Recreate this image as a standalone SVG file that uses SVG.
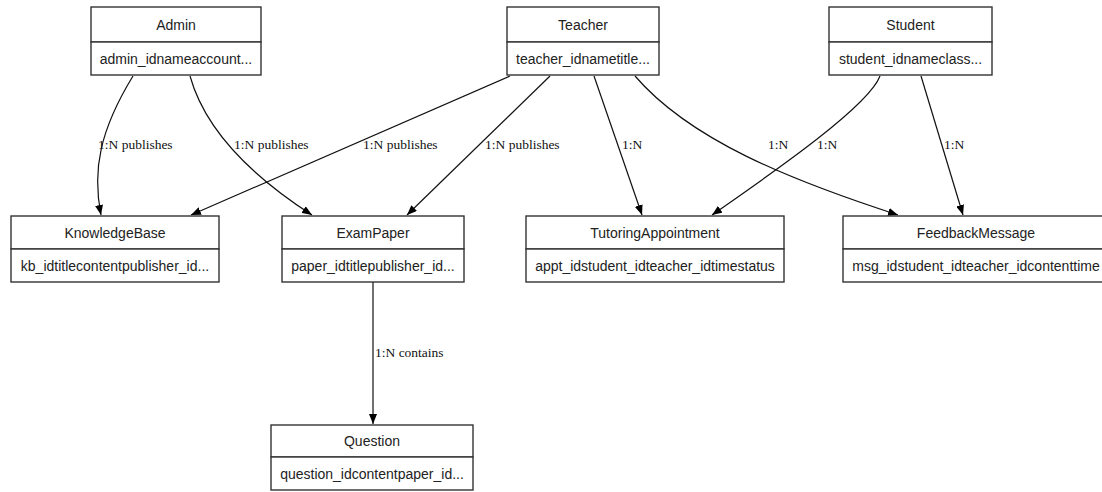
<svg xmlns="http://www.w3.org/2000/svg" width="1102" height="492" viewBox="0 0 1102 492">
<style>
.box{fill:#fff;stroke:#333;stroke-width:1.4}
.t{font-family:"Liberation Sans",Arial,sans-serif;font-size:14px;fill:#222;text-anchor:middle}
.e{fill:none;stroke:#111;stroke-width:1.2;marker-end:url(#ah)}
.l{font-family:"Liberation Serif","Times New Roman",serif;font-size:13.5px;fill:#111}
</style>
<defs>
<marker id="ah" viewBox="0 0 10 8" refX="10" refY="4" markerWidth="10" markerHeight="8" markerUnits="userSpaceOnUse" orient="auto">
<path d="M0,0 L10,4 L0,8 z" fill="#000"/>
</marker>
</defs>
<rect width="1102" height="492" fill="#fff"/>
<g id="connectors">
<path class="e" d="M133,76 C100,130 92,170 101,215"/>
<path class="e" d="M190,76 C205,130 250,175 312,215"/>
<path class="e" d="M510,76 L191,215"/>
<path class="e" d="M550,76 L407,215"/>
<path class="e" d="M594,76 L642,215"/>
<path class="e" d="M635,76 C690,140 790,180 898,215"/>
<path class="e" d="M880,76 C868,108 762,180 712,215"/>
<path class="e" d="M921,76 L963,215"/>
<path class="e" d="M373,282 L373,424"/>
<text class="l" x="98" y="149">1:N publishes</text>
<text class="l" x="234" y="149">1:N publishes</text>
<text class="l" x="363" y="149">1:N publishes</text>
<text class="l" x="485" y="149">1:N publishes</text>
<text class="l" x="622" y="149">1:N</text>
<text class="l" x="768" y="149">1:N</text>
<text class="l" x="817" y="149">1:N</text>
<text class="l" x="944" y="149">1:N</text>
<text class="l" x="375" y="357">1:N contains</text>
</g>
<g id="Admin">
<rect class="box" x="91" y="7" width="170" height="35"/>
<rect class="box" x="91" y="42" width="170" height="33"/>
<text class="t" x="176" y="29.5">Admin</text>
<text class="t" x="176" y="63.5">admin_idnameaccount...</text>
</g>
<g id="Teacher">
<rect class="box" x="507" y="7" width="152" height="35"/>
<rect class="box" x="507" y="42" width="152" height="33"/>
<text class="t" x="583" y="29.5">Teacher</text>
<text class="t" x="583" y="63.5">teacher_idnametitle...</text>
</g>
<g id="Student">
<rect class="box" x="829" y="7" width="163" height="35"/>
<rect class="box" x="829" y="42" width="163" height="33"/>
<text class="t" x="910.5" y="29.5">Student</text>
<text class="t" x="910.5" y="63.5">student_idnameclass...</text>
</g>
<g id="KnowledgeBase">
<rect class="box" x="11" y="216" width="208" height="33"/>
<rect class="box" x="11" y="249" width="208" height="33"/>
<text class="t" x="115" y="237.5">KnowledgeBase</text>
<text class="t" x="115" y="270.5">kb_idtitlecontentpublisher_id...</text>
</g>
<g id="ExamPaper">
<rect class="box" x="282" y="216" width="182" height="33"/>
<rect class="box" x="282" y="249" width="182" height="33"/>
<text class="t" x="373" y="237.5">ExamPaper</text>
<text class="t" x="373" y="270.5">paper_idtitlepublisher_id...</text>
</g>
<g id="TutoringAppointment">
<rect class="box" x="526" y="216" width="258" height="33"/>
<rect class="box" x="526" y="249" width="258" height="33"/>
<text class="t" x="655" y="237.5">TutoringAppointment</text>
<text class="t" x="655" y="270.5">appt_idstudent_idteacher_idtimestatus</text>
</g>
<g id="FeedbackMessage">
<rect class="box" x="843" y="216" width="266" height="33"/>
<rect class="box" x="843" y="249" width="266" height="33"/>
<text class="t" x="976" y="237.5">FeedbackMessage</text>
<text class="t" x="976" y="270.5">msg_idstudent_idteacher_idcontenttime</text>
</g>
<g id="Question">
<rect class="box" x="271" y="425" width="202" height="32"/>
<rect class="box" x="271" y="457" width="202" height="33"/>
<text class="t" x="372" y="446">Question</text>
<text class="t" x="372" y="478.5">question_idcontentpaper_id...</text>
</g>
</svg>
